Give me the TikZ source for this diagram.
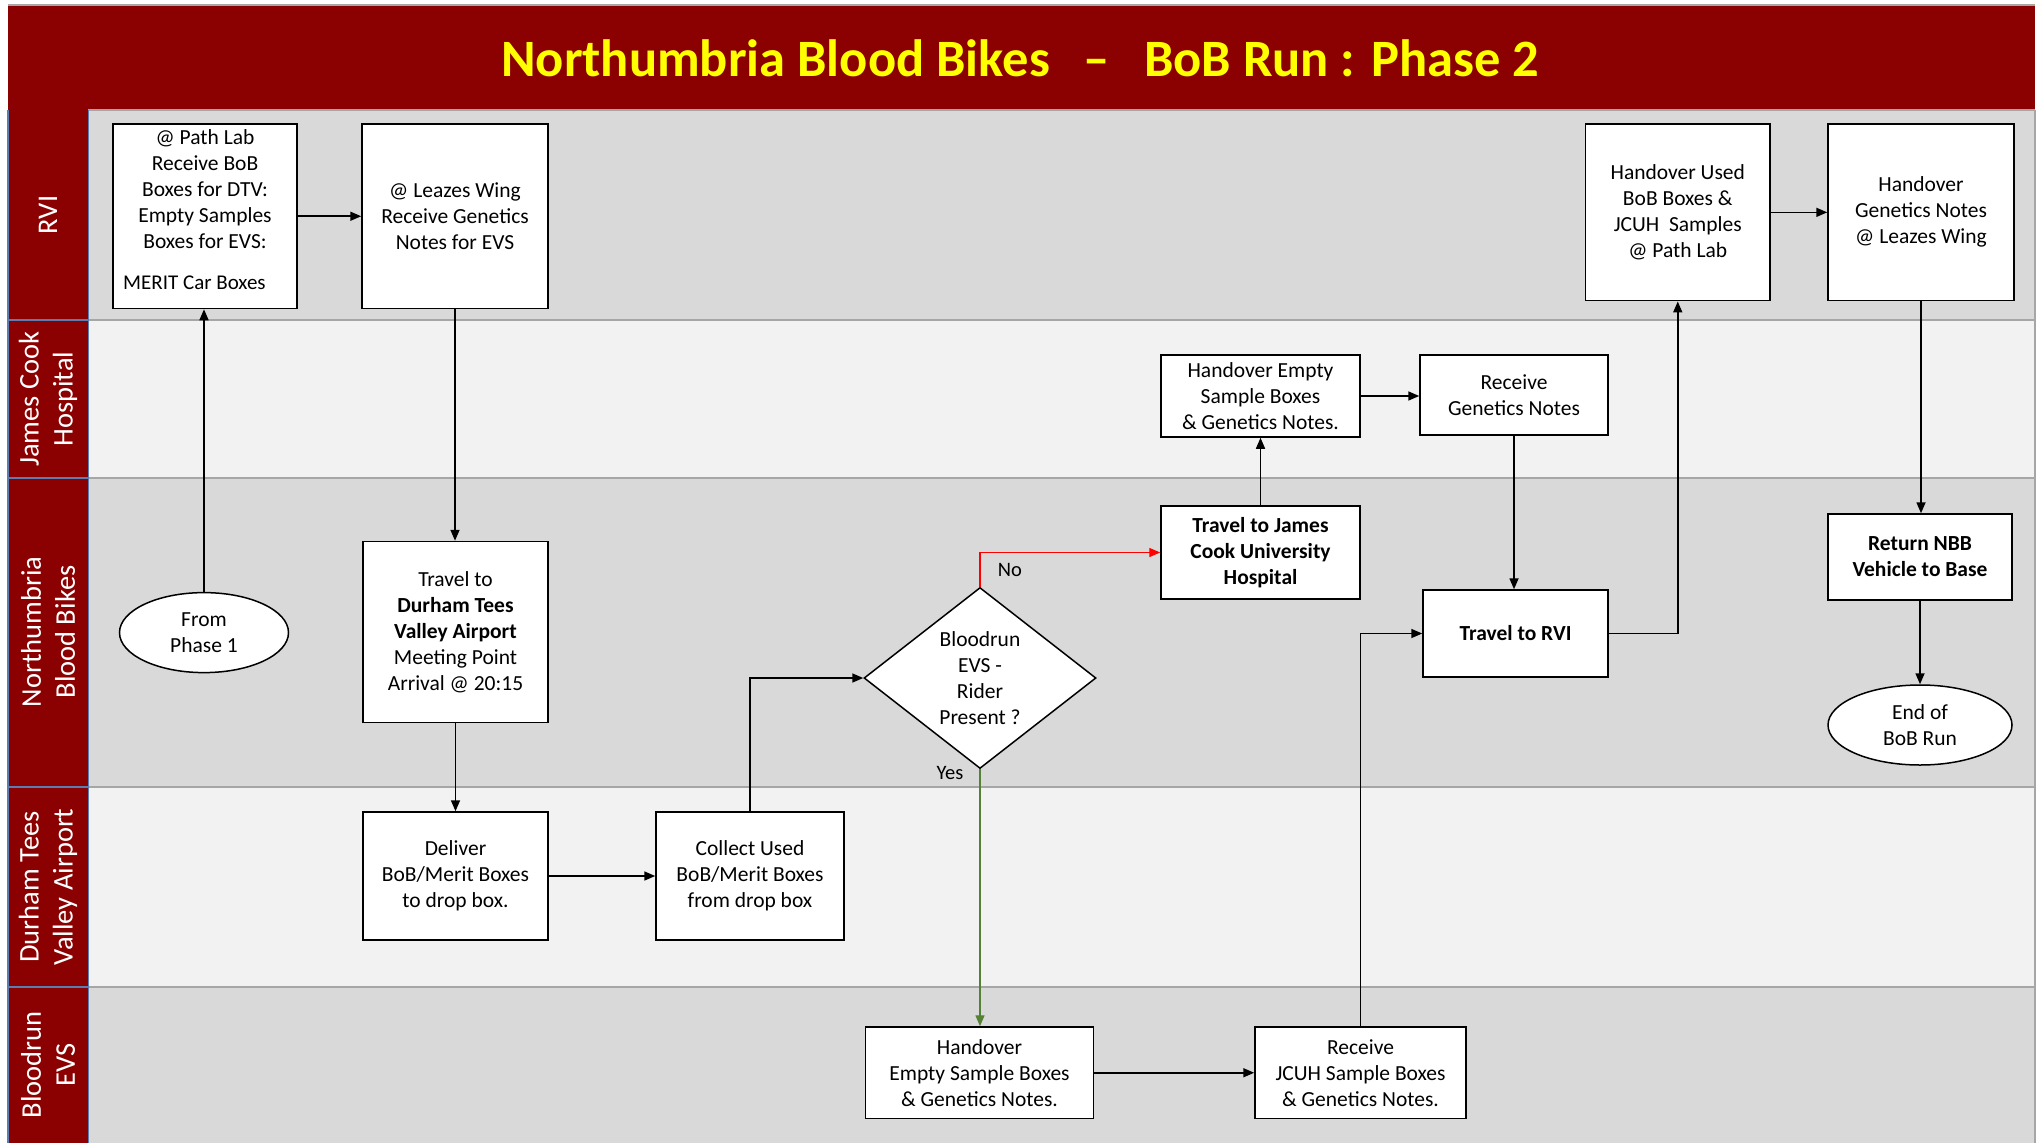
\documentclass[tikz,border=0pt]{standalone}
\usepackage{fontspec}
\setmainfont{Carlito}
\usetikzlibrary{arrows.meta,shapes.geometric}
\definecolor{nbbred}{HTML}{8B0000}
\definecolor{lanedark}{HTML}{D9D9D9}
\definecolor{lanelight}{HTML}{F2F2F2}
\definecolor{sepgray}{HTML}{A6A6A6}
\definecolor{hdrblue}{HTML}{5B7DB1}
\definecolor{titleyellow}{HTML}{FFFF00}
\definecolor{yesgreen}{HTML}{548235}
\definecolor{nored}{HTML}{FF0000}
\begin{document}
\begin{tikzpicture}[x=1pt,y=-1pt,
  box/.style={draw=black, line width=1.5pt, fill=white, align=center, inner sep=2pt,
    font=\fontsize{21.5}{26}\selectfont, text=black},
  txt/.style={align=center, inner sep=0pt, font=\fontsize{21.5}{26}\selectfont, text=black},
  ellbox/.style={box, ellipse},
  decision/.style={box, diamond, aspect=1.28, inner sep=0pt},
  conn/.style={line width=1.6pt, draw=black, -{Triangle[length=11pt,width=9pt]}},
  lanelabel/.style={rotate=90, text=white, align=center, inner sep=0pt,
    font=\fontsize{28.5}{34}\selectfont},
  lbl/.style={inner sep=0pt, text=black, font=\fontsize{20.5}{24}\selectfont}
]
\useasboundingbox (0,0) rectangle (2041,1143);
\fill[white] (0,0) rectangle (2041,1143);

% title bar
\fill[nbbred] (8,6) rectangle (2035,110);
\draw[sepgray, line width=2pt] (8,5) -- (2035,5);
\node[text=titleyellow, inner sep=0pt, font=\bfseries\fontsize{52.5}{60}\selectfont] (title) at (1020,58)
  {Northumbria Blood Bikes\hspace{34pt}–\hspace{34pt}BoB Run : Phase 2};

% lanes
\fill[lanedark]  (88,110) rectangle (2035,320);
\fill[lanelight] (88,320) rectangle (2035,478);
\fill[lanedark]  (88,478) rectangle (2035,787);
\fill[lanelight] (88,787) rectangle (2035,987);
\fill[lanedark]  (88,987) rectangle (2035,1143);
\foreach \yy in {110,320,478,787,987}
  \draw[sepgray, line width=2.5pt] (88,\yy) -- (2035,\yy);
\draw[sepgray, line width=1.5pt] (2035,110) -- (2035,1143);

% lane headers
\fill[nbbred] (8,110) rectangle (88,1143);
\foreach \yy in {320,478,787,987}
  \draw[hdrblue, line width=1.2pt] (8,\yy) -- (88,\yy);
\draw[hdrblue, line width=1.2pt] (8,110) -- (8,1143);
\draw[hdrblue, line width=1pt] (88,110) -- (88,1143);

\node[lanelabel] (lrvi) at (48,215) {RVI};
\node[lanelabel] (ljch) at (48,399) {James Cook\\Hospital};
\node[lanelabel] (lnbb) at (48,632) {Northumbria\\Blood Bikes};
\node[lanelabel] (ldtva) at (48,887) {Durham Tees\\Valley Airport};
\node[lanelabel] (levs) at (48,1065) {Bloodrun\\EVS};

% nodes
\node[box, minimum width=184pt, minimum height=184.5pt] (pathlab) at (205,216.25) {};
\node[txt] (pathlabtxt) at (205,189) {@ Path Lab\\Receive BoB\\Boxes for DTV:\\Empty Samples\\Boxes for EVS:};
\node[txt, anchor=west, font=\fontsize{21}{26}\selectfont] (merit) at (123,283) {MERIT Car Boxes};

\node[box, minimum width=186pt, minimum height=184.5pt] (leazes) at (455,216.25)
  {@ Leazes Wing\\Receive Genetics\\Notes for EVS};

\node[ellbox, minimum width=169pt, minimum height=80pt] (phase1) at (204,632.6) {From\\Phase 1};

\node[box, minimum width=185pt, minimum height=181pt] (travdtva) at (455.5,632)
  {Travel to\\\textbf{Durham Tees}\\\textbf{Valley Airport}\\Meeting Point\\Arrival @ 20:15};

\node[box, minimum width=185pt, minimum height=128pt] (deliver) at (455.5,876)
  {Deliver\\BoB/Merit Boxes\\to drop box.};

\node[box, minimum width=188pt, minimum height=128pt] (collect) at (750,876)
  {Collect Used\\BoB/Merit Boxes\\from drop box};

\node[decision, minimum width=232pt, minimum height=181pt] (decide) at (980,678)
  {Bloodrun\\EVS -\\Rider\\Present ?};

\node[box, minimum width=199pt, minimum height=93pt] (travjames) at (1260.5,552.5)
  {\textbf{Travel to James}\\\textbf{Cook University}\\\textbf{Hospital}};

\node[box, minimum width=199pt, minimum height=82pt] (hoempty) at (1260.5,396)
  {Handover Empty\\Sample Boxes\\\& Genetics Notes.};

\node[box, minimum width=188pt, minimum height=80pt] (recgen) at (1514,395)
  {Receive\\Genetics Notes};

\node[box, minimum width=185pt, minimum height=87pt] (travrvi) at (1515.5,633.5)
  {\textbf{Travel to RVI}};

\node[box, minimum width=184.5pt, minimum height=176.7pt] (housed) at (1677.75,212.35)
  {Handover Used\\BoB Boxes \&\\JCUH\ \ Samples\\@ Path Lab};

\node[box, minimum width=186pt, minimum height=176.7pt] (hogen) at (1921,212.35)
  {Handover\\Genetics Notes\\@ Leazes Wing};

\node[box, minimum width=184pt, minimum height=86pt] (retnbb) at (1920,557)
  {\textbf{Return NBB}\\\textbf{Vehicle to Base}};

\node[ellbox, minimum width=184pt, minimum height=80pt] (endrun) at (1920,725)
  {End of\\BoB Run};

\node[box, minimum width=228pt, minimum height=91.5pt] (hoevs) at (979.5,1072.75)
  {Handover\\Empty Sample Boxes\\\& Genetics Notes.};

\node[box, minimum width=211pt, minimum height=91.5pt] (recjcuh) at (1360.5,1072.75)
  {Receive\\JCUH Sample Boxes\\\& Genetics Notes.};

% connectors
\draw[conn] (phase1.north) -- (phase1.north |- pathlab.south);
\draw[conn] (pathlab.east) -- (leazes.west);
\draw[conn] (leazes.south) -- (leazes.south |- travdtva.north);
\draw[conn] (travdtva.south) -- (deliver.north);
\draw[conn] (deliver.east) -- (collect.west);
\draw[conn] (collect.north) |- (decide.west);
\draw[conn, draw=nored, -{Triangle[length=11pt,width=9pt,fill=nored]}, line width=1.4pt]
  (decide.north) |- (travjames.west);
\draw[conn, draw=yesgreen, line width=1.4pt] (decide.south) -- (decide.south |- hoevs.north);
\draw[conn] (travjames.north) -- (hoempty.south);
\draw[conn] (hoempty.east) -- (hoempty.east -| recgen.west);
\draw[conn] (recgen.south) -- (recgen.south |- travrvi.north);
\draw[conn] (hoevs.east) -- (recjcuh.west);
\draw[conn] (recjcuh.north) |- (travrvi.west);
\draw[conn] (travrvi.east) -| (housed.south);
\draw[conn] (housed.east) -- (hogen.west);
\draw[conn] (hogen.south) -- (hogen.south |- retnbb.north);
\draw[conn] (retnbb.south) -- (endrun.north);

\node[lbl] (nolbl) at (1010,570) {No};
\node[lbl] (yeslbl) at (950,773) {Yes};
\end{tikzpicture}
\end{document}
